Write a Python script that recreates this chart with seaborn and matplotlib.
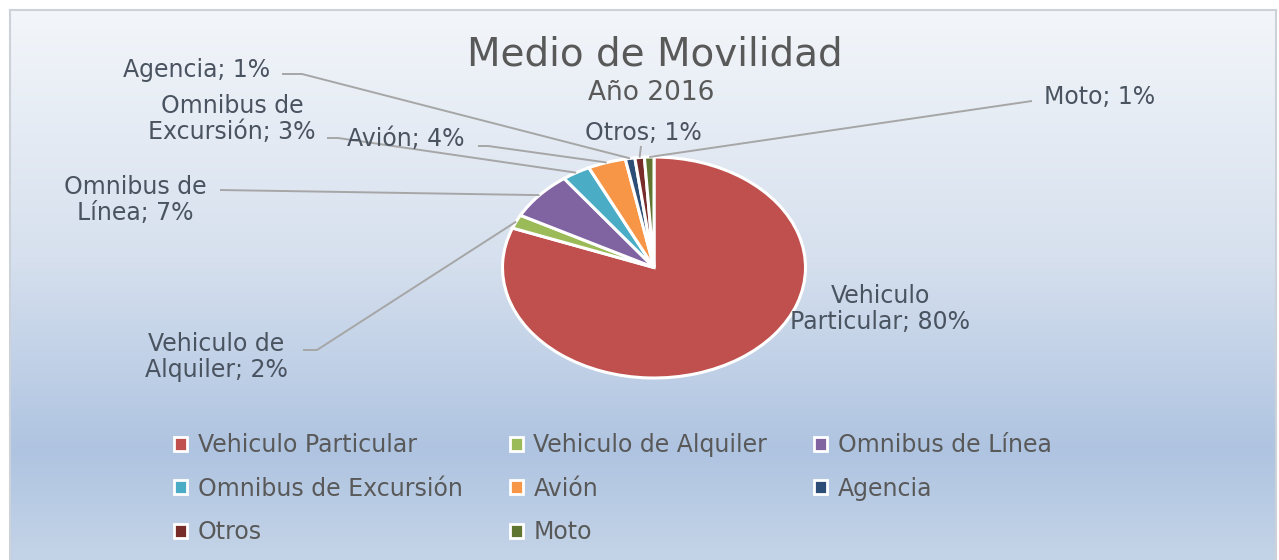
import numpy as np
import matplotlib
matplotlib.use("Agg")
import matplotlib.pyplot as plt
from matplotlib.patches import Patch
from matplotlib.colors import LinearSegmentedColormap
import seaborn as sns

# ---------------- data ----------------
categories = ["Vehiculo Particular", "Vehiculo de Alquiler", "Omnibus de Línea",
              "Omnibus de Excursión", "Avión", "Agencia", "Otros", "Moto"]
percentages = [80, 2, 7, 3, 4, 1, 1, 1]
slice_colors = ["#C0504D", "#9BBB59", "#8064A2", "#4BACC6",
                "#F79646", "#2C4D75", "#772C2A", "#5F7530"]
title_text = "Medio de Movilidad"
subtitle_text = "Año 2016"
wrap_first = {"Vehiculo Particular": "Vehiculo", "Vehiculo de Alquiler": "Vehiculo de",
              "Omnibus de Línea": "Omnibus de", "Omnibus de Excursión": "Omnibus de"}

# ---------------- style ----------------
sns.set_theme(style="white")
plt.rcParams['font.family'] = ['DejaVu Sans']
palette = sns.color_palette(slice_colors)

W, H = 1279, 560
fig = plt.figure(figsize=(W / 100, H / 100), dpi=100)
fig.patch.set_facecolor('white')

# background panel with vertical gradient
bg = fig.add_axes([10 / W, 0, 1266 / W, 550 / H])
grad = LinearSegmentedColormap.from_list(
    'bg', [(0.0, '#c4d4e8'), (0.2, '#afc4e1'), (0.55, '#d6e0ee'), (1.0, '#f3f6fa')])
bg.imshow(np.linspace(0, 1, 256).reshape(-1, 1), aspect='auto', cmap=grad,
          origin='lower', extent=[0, 1, 0, 1])
bg.set_xticks([]); bg.set_yticks([])
for name, sp in bg.spines.items():
    sp.set_color('#cdd2d8'); sp.set_linewidth(1.5)
bg.spines['bottom'].set_visible(False)

# main axes covering the whole figure (pie drawn as an ellipse, as in the reference)
cx, cy, rx, ry = 654, 267.5, 151.5, 110.5
ax = fig.add_axes([0, 0, 1, 1])
ax.patch.set_alpha(0)
wedges, _ = ax.pie(percentages, colors=palette, startangle=90, counterclock=False,
                   wedgeprops=dict(edgecolor='white', linewidth=2.2))
ax.set_aspect('auto')
ax.set_xlim(-cx / rx, (W - cx) / rx)
ax.set_ylim(-(H - cy) / ry, cy / ry)
ax.axis('off')


def P(px, py):
    return (px - cx) / rx, (cy - py) / ry


def anchor(w):
    t = np.deg2rad((w.theta1 + w.theta2) / 2)
    return np.cos(t), np.sin(t)


# label layout: text centre (px) and leader start points (px)
label_pos = {
    "Vehiculo Particular": (880, 309),
    "Vehiculo de Alquiler": (216, 357),
    "Omnibus de Línea": (135, 200),
    "Omnibus de Excursión": (232, 119),
    "Avión": (406, 139),
    "Agencia": (197, 70),
    "Otros": (643, 133),
    "Moto": (1100, 97),
}
leader_start = {
    "Vehiculo de Alquiler": [(303, 350), (317, 350)],
    "Omnibus de Línea": [(220, 190)],
    "Omnibus de Excursión": [(327, 138), (338, 138)],
    "Avión": [(478, 146), (488, 146)],
    "Agencia": [(282, 74), (302, 74)],
    "Otros": [(641, 146)],
    "Moto": [(1032, 101)],
}

for cat, pct, w in zip(categories, percentages, wedges):
    text = f"{cat}; {pct}%"
    if cat in wrap_first:
        first = wrap_first[cat]
        text = first + "\n" + text[len(first) + 1:]
    x, y = P(*label_pos[cat])
    ax.text(x, y, text, ha='center', va='center', multialignment='center',
            fontsize=17, color='#4a5360', linespacing=1.15, zorder=5)
    if cat in leader_start:
        pts = [P(*p) for p in leader_start[cat]] + [anchor(w)]
        xs, ys = zip(*pts)
        ax.plot(xs, ys, color='#a6a6a6', lw=1.4, zorder=4, solid_capstyle='butt')

# titles
fig.text(655 / W, 1 - 55 / H, title_text, ha='center', va='center', fontsize=28, color='#595959')
fig.text(651 / W, 1 - 93 / H, subtitle_text, ha='center', va='center', fontsize=19, color='#595959')

# legend (row-wise order as in reference)
order = [0, 3, 6, 1, 4, 7, 2, 5]
handles = [Patch(facecolor=palette[i], edgecolor='white', linewidth=2) for i in order]
labels = [categories[i] for i in order]
leg = fig.legend(handles, labels, ncol=3, loc='upper left',
                 bbox_to_anchor=(174 / W, 1 - 433 / H), frameon=False, fontsize=17,
                 handlelength=0.55, handleheight=0.55, handletextpad=0.45,
                 columnspacing=2.0, labelspacing=0.83, borderpad=0, borderaxespad=0)
for t in leg.get_texts():
    t.set_color('#595959')

fig.savefig("out.png", dpi=100)
